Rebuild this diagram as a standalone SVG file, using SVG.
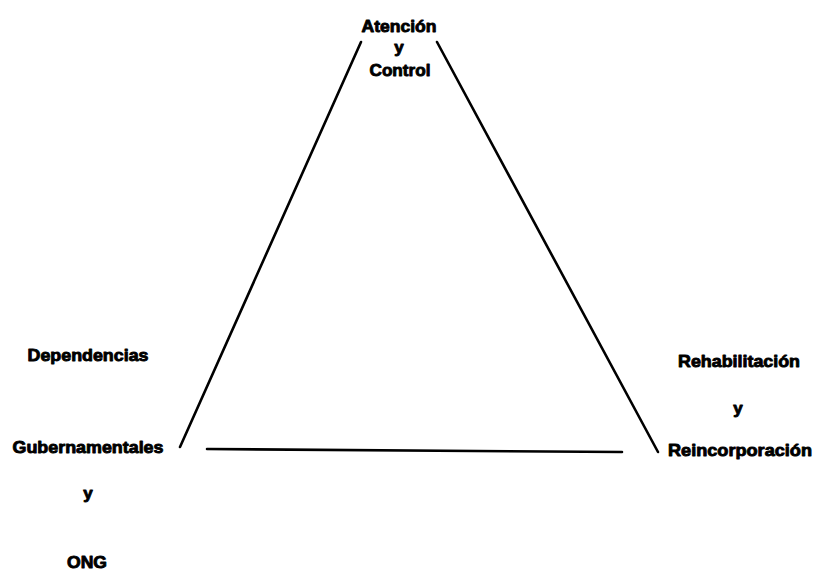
<svg xmlns="http://www.w3.org/2000/svg" width="817" height="585" viewBox="0 0 817 585">
<style>
text{font-family:"Liberation Sans",Arial,sans-serif;font-weight:bold;font-size:17px;fill:#000;stroke:#000;stroke-width:0.9;stroke-linejoin:round;text-anchor:middle}
.ln{stroke:#000;stroke-width:2.6;stroke-linecap:round;fill:none}
</style>
<rect width="817" height="585" fill="#fff"/>
<g id="connectors">
<line class="ln" x1="361" y1="42" x2="180" y2="447"/>
<line class="ln" x1="437" y1="42" x2="658" y2="452"/>
<line class="ln" x1="207" y1="449" x2="622" y2="452"/>
</g>
<g id="node-top">
<text x="399" y="32" textLength="75" lengthAdjust="spacingAndGlyphs">Atención</text>
<text x="399" y="53">y</text>
<text x="400" y="76" textLength="61" lengthAdjust="spacingAndGlyphs">Control</text>
</g>
<g id="node-left">
<text x="88" y="361" textLength="121" lengthAdjust="spacingAndGlyphs">Dependencias</text>
<text x="88" y="453" textLength="151" lengthAdjust="spacingAndGlyphs">Gubernamentales</text>
<text x="88" y="499">y</text>
<text x="87" y="568" textLength="40" lengthAdjust="spacingAndGlyphs">ONG</text>
</g>
<g id="node-right">
<text x="739" y="367" textLength="122" lengthAdjust="spacingAndGlyphs">Rehabilitación</text>
<text x="738" y="414">y</text>
<text x="740" y="456" textLength="144" lengthAdjust="spacingAndGlyphs">Reincorporación</text>
</g>
</svg>
